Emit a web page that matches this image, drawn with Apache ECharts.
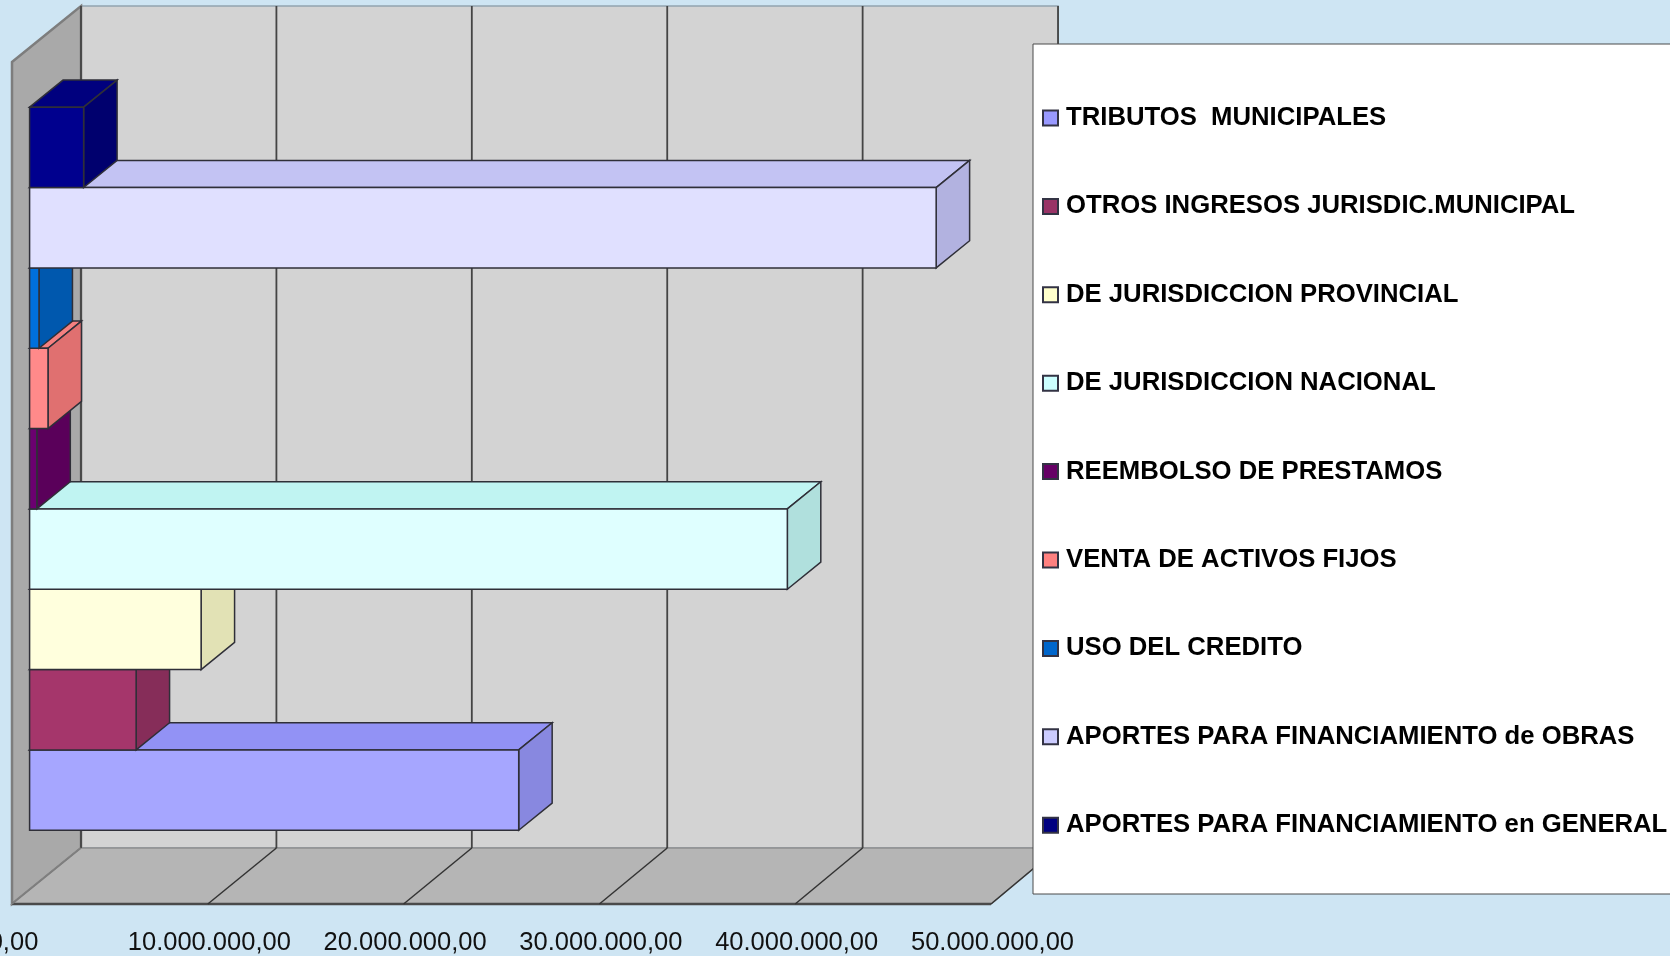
<!DOCTYPE html>
<html>
<head>
<meta charset="utf-8">
<title>Ingresos</title>
<script src="https://cdn.jsdelivr.net/npm/echarts@6/dist/echarts.min.js"></script>
<style>
html, body { margin: 0; padding: 0; background: #cee5f3; overflow: hidden; }
#main { width: 1670px; height: 956px; }
</style>
</head>
<body>
<div id="main"></div>
<script>
// series, bottom bar first
var seriesNames = [
  'TRIBUTOS  MUNICIPALES',
  'OTROS INGRESOS JURISDIC.MUNICIPAL',
  'DE JURISDICCION PROVINCIAL',
  'DE JURISDICCION NACIONAL',
  'REEMBOLSO DE PRESTAMOS',
  'VENTA DE ACTIVOS FIJOS',
  'USO DEL CREDITO',
  'APORTES PARA FINANCIAMIENTO de OBRAS',
  'APORTES PARA FINANCIAMIENTO en GENERAL'
];
var seriesValues = [24980000, 5440000, 8760000, 38700000, 370000, 940000, 480000, 46300000, 2760000];
var tickValues = [0, 10000000, 20000000, 30000000, 40000000, 50000000];
var tickLabels = ['0,00', '10.000.000,00', '20.000.000,00', '30.000.000,00', '40.000.000,00', '50.000.000,00'];

var legendColors = ['#9999ff', '#993366', '#ffffcc', '#ccffff', '#660066', '#ff8080', '#0066cc', '#ccccff', '#000080'];
var frontColors = ['#a6a6ff', '#a5366b', '#ffffdd', '#dfffff', '#6b0070', '#ff8a8a', '#0070dd', '#e0e0ff', '#00008e'];
var topColors = ['#9292f5', '#933060', '#eeeec5', '#c0f4f2', '#5f0063', '#f58080', '#0062c4', '#c3c3f3', '#00007e'];
var sideColors = ['#8888e0', '#862d59', '#e2e2b5', '#b0e0dd', '#5a005a', '#e07070', '#0058ae', '#b2b2e0', '#00006e'];

// fake perspective: how far the back wall sits from the front plane, in px
var depthX = 69;
var depthY = -56;
var backScale = 0.998;
var barFront = 0.255;
var barBack = 0.74;
var clusterFill = 0.8587;
var edgeColor = '#2f2f38';

function poly(points, fill, stroke, width) {
  return {
    type: 'polygon',
    shape: { points: points },
    style: { fill: fill, stroke: stroke || edgeColor, lineWidth: width === undefined ? 1.5 : width }
  };
}

function line(x1, y1, x2, y2, color, width) {
  return {
    type: 'line',
    shape: { x1: x1, y1: y1, x2: x2, y2: y2 },
    style: { stroke: color, lineWidth: width }
  };
}

// x of a front-plane position once pushed back onto the rear wall
function backX(x, left) {
  return left + depthX + (x - left) * backScale;
}

function renderWalls(params, api) {
  var left = api.coord([tickValues[0], 0])[0];
  var right = api.coord([tickValues[tickValues.length - 1], 0])[0];
  var mid = api.coord([0, 0])[1];
  var band = api.size([0, 1])[1];
  var top = mid - band / 2;
  var bottom = mid + band / 2;
  var rearLeft = backX(left, left);
  var rearRight = backX(right, left);
  return {
    type: 'group',
    children: [
      poly([[rearLeft, top + depthY], [rearRight, top + depthY], [rearRight, bottom + depthY], [rearLeft, bottom + depthY]], '#d3d3d3', '#93a4b0', 1.5),
      poly([[left, top], [rearLeft, top + depthY], [rearLeft, bottom + depthY], [left, bottom]], '#a9a9a9', '#7d7d7d', 2.5),
      poly([[left, bottom], [rearLeft, bottom + depthY], [rearRight, bottom + depthY], [right, bottom]], '#b5b5b5', '#8f8f8f', 1.5),
      line(left, bottom, right, bottom, '#4a4a4a', 2.5)
    ]
  };
}

function renderGrid(params, api) {
  var p = api.coord([api.value(0), 0]);
  var left = api.coord([tickValues[0], 0])[0];
  var band = api.size([0, 1])[1];
  var top = p[1] - band / 2;
  var bottom = p[1] + band / 2;
  var rear = backX(p[0], left);
  return {
    type: 'group',
    children: [
      line(rear, top + depthY, rear, bottom + depthY, '#444444', 1.8),
      line(p[0], bottom, rear, bottom + depthY, params.dataIndex === 0 ? '#7d7d7d' : '#333333', 1.5)
    ]
  };
}

function renderBar(params, api) {
  var i = params.seriesIndex - 2;
  var band = api.size([0, 1])[1];
  var barH = band * clusterFill / seriesNames.length;
  var base = api.coord([0, 0]);
  var end = api.coord([api.value(0), 0]);
  var y1 = base[1] + band * clusterFill / 2 - i * barH;
  var y0 = y1 - barH;
  var fx = depthX * barFront;
  var fy = depthY * barFront;
  var bx = depthX * barBack;
  var by = depthY * barBack;
  var a = base[0] + fx;
  var b = end[0] + fx;
  var c = end[0] + bx;
  return {
    type: 'group',
    children: [
      poly([[a, y0 + fy], [base[0] + bx, y0 + by], [c, y0 + by], [b, y0 + fy]], topColors[i]),
      poly([[b, y0 + fy], [c, y0 + by], [c, y1 + by], [b, y1 + fy]], sideColors[i]),
      poly([[a, y0 + fy], [b, y0 + fy], [b, y1 + fy], [a, y1 + fy]], frontColors[i])
    ]
  };
}

var series = [
  { type: 'custom', name: 'paredes', renderItem: renderWalls, encode: { x: 0, y: 1 }, data: [[0, 0]], silent: true },
  {
    type: 'custom', name: 'rejilla', renderItem: renderGrid, encode: { x: 0, y: 1 }, silent: true,
    data: tickValues.map(function (v) { return [v, 0]; })
  }
];
seriesNames.forEach(function (name, i) {
  series.push({
    type: 'custom',
    name: name,
    renderItem: renderBar,
    encode: { x: 0, y: 1 },
    itemStyle: { color: legendColors[i], borderColor: '#333344', borderWidth: 1 },
    data: [[seriesValues[i], 0]]
  });
});

var myChart = echarts.init(document.getElementById('main'));
myChart.setOption({
  animation: false,
  backgroundColor: '#cee5f3',
  grid: { left: 12, width: 979, top: 62, height: 842, outerBoundsMode: 'none' },
  xAxis: {
    type: 'value',
    min: 0,
    max: 50000000,
    interval: 10000000,
    axisLine: { show: false },
    axisTick: { show: false },
    splitLine: { show: false },
    axisLabel: {
      margin: 26,
      padding: [0, 0, 0, 3],
      color: '#111111',
      fontFamily: 'Liberation Sans',
      fontSize: 25.5,
      hideOverlap: false,
      formatter: function (v) { return tickLabels[tickValues.indexOf(v)]; }
    }
  },
  yAxis: { type: 'category', data: ['Ingresos'], show: false },
  legend: {
    data: seriesNames,
    orient: 'vertical',
    left: 1033,
    top: 44,
    padding: [58, 60, 52.8, 9],
    itemWidth: 15,
    itemHeight: 15,
    itemGap: 56.4,
    icon: 'rect',
    selectedMode: false,
    backgroundColor: '#ffffff',
    borderColor: '#4a4a4a',
    borderWidth: 1,
    textStyle: {
      color: '#000000',
      fontFamily: 'Liberation Sans',
      fontWeight: 'bold',
      fontSize: 25.7,
      lineHeight: 30,
      padding: [2, 0, 0, 3]
    }
  },
  series: series
});
</script>
</body>
</html>
